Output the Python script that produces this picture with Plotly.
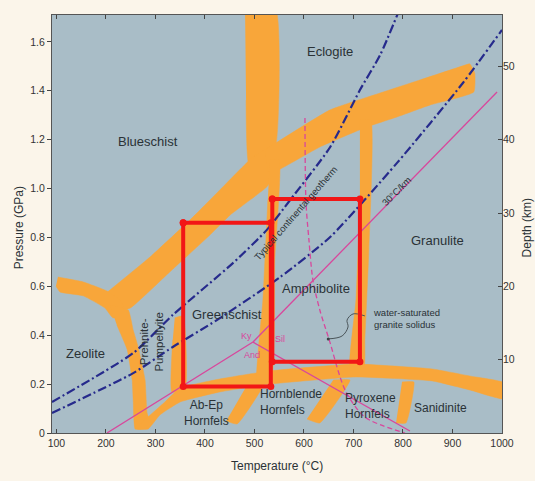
import plotly.graph_objects as go

# ---------------- data (Temperature °C, Pressure GPa) ----------------
temp_ticks = list(range(100, 1001, 100))
pres_ticks = [0, 0.2, 0.4, 0.6, 0.8, 1.0, 1.2, 1.4, 1.6]
pres_ticktext = ["0", "0.2", "0.4", "0.6", "0.8", "1.0", "1.2", "1.4", "1.6"]
depth_ticks = [10, 20, 30, 40, 50]

# facies boundary bands (polygons)
band_top_T = [481, 543, 543, 515, 489, 483]
band_top_P = [1.73, 1.73, 1.178, 1.117, 1.097, 1.362]

band_diag_T = [188, 289, 370, 430, 497, 541, 550, 525, 451, 410, 329, 249, 218]
band_diag_P = [0.552, 0.720, 0.872, 0.994, 1.129, 1.178, 1.084, 1.007, 0.892, 0.810, 0.659, 0.511, 0.495]

band_ecl_T = [521, 653, 754, 834, 921, 935, 945, 943, 855, 788, 727, 632, 548, 527]
band_ecl_P = [1.158, 1.322, 1.391, 1.444, 1.502, 1.510, 1.473, 1.395, 1.342, 1.293, 1.252, 1.170, 1.076, 1.068]

band_zeo_arm_T = [103, 154, 202, 228, 243, 214, 198, 154, 107, 99]
band_zeo_arm_P = [0.638, 0.618, 0.581, 0.544, 0.483, 0.471, 0.511, 0.561, 0.577, 0.601]

band_zeo_down_T = [208, 245, 255, 265, 279, 283, 289, 275, 259, 255, 253, 243, 222]
band_zeo_down_P = [0.524, 0.503, 0.421, 0.352, 0.217, 0.082, 0.045, 0.016, 0.016, 0.135, 0.217, 0.340, 0.442]

band_hornfels_T = [269, 319, 350, 430, 531, 703, 859, 935, 1005,
                   1005, 935, 859, 703, 531, 430, 350, 309, 285, 265]
band_hornfels_P = [0.037, 0.127, 0.184, 0.221, 0.254, 0.282, 0.262, 0.233, 0.205,
                   0.139, 0.176, 0.213, 0.229, 0.200, 0.168, 0.127, 0.074, 0.016, 0.016]

band_pp_T = [339, 356, 360, 333, 335]
band_pp_P = [0.471, 0.479, 0.176, 0.168, 0.381]

band_gs_amph_T = [531, 550, 541, 535, 505, 517, 527]
band_gs_amph_P = [1.117, 1.117, 0.708, 0.237, 0.196, 0.544, 0.953]

band_amph_gran_T = [713, 735, 731, 723, 721, 693, 705, 713]
band_amph_gran_P = [1.281, 1.281, 0.749, 0.381, 0.266, 0.258, 0.544, 0.953]

band_abep_T = [491, 523, 465, 443]
band_abep_P = [0.217, 0.217, 0.037, 0.049]
band_hbl_px_T = [659, 693, 632, 606]
band_hbl_px_P = [0.217, 0.217, 0.041, 0.057]
band_px_san_T = [798, 822, 806, 786]
band_px_san_P = [0.209, 0.209, 0.041, 0.041]

# geotherms
geotherm_T = [91, 255, 335, 457, 525, 572, 653, 713, 754, 790]
geotherm_P = [0.127, 0.327, 0.483, 0.696, 0.831, 0.953, 1.170, 1.403, 1.547, 1.718]
grad30_T = [91, 255, 335, 424, 552, 653, 788, 921, 1000]
grad30_P = [0.082, 0.245, 0.352, 0.462, 0.638, 0.802, 1.105, 1.432, 1.649]

# Al2SiO5 reactions
and_ky_T = [202, 497]
and_ky_P = [0.0, 0.372]
ky_sil_T = [497, 990]
ky_sil_P = [0.372, 1.395]
and_sil_T = [497, 814]
and_sil_P = [0.372, 0.008]

# water-saturated granite solidus
solidus_T = [602, 604, 610, 618, 632, 651, 683, 723, 804]
solidus_P = [1.289, 0.945, 0.790, 0.626, 0.503, 0.381, 0.176, 0.065, 0.0]
pointer_T = [649, 677, 689, 687, 699, 723]
pointer_P = [0.385, 0.397, 0.434, 0.462, 0.487, 0.479]

# highlighted boxes
greenschist_box_T = [356, 533, 533, 356, 356]
greenschist_box_P = [0.86, 0.86, 0.19, 0.19, 0.86]
amphibolite_box_T = [536, 713, 713, 536, 536]
amphibolite_box_P = [0.957, 0.957, 0.291, 0.291, 0.957]

# ---------------- styling ----------------
ORANGE = "#f8a63a"
BG = "#a9bdc7"
PAPER = "#fbf5ea"
RED = "#f21616"
NAVY = "#262a8c"
PINK = "#d8479c"
TXT = "#2a3236"
FONT = "Liberation Sans, Arial, sans-serif"

fig = go.Figure()

bands = [
    (band_top_T, band_top_P), (band_diag_T, band_diag_P), (band_ecl_T, band_ecl_P),
    (band_zeo_arm_T, band_zeo_arm_P), (band_zeo_down_T, band_zeo_down_P),
    (band_hornfels_T, band_hornfels_P), (band_pp_T, band_pp_P),
    (band_gs_amph_T, band_gs_amph_P), (band_amph_gran_T, band_amph_gran_P),
    (band_abep_T, band_abep_P), (band_hbl_px_T, band_hbl_px_P), (band_px_san_T, band_px_san_P),
]
for bt, bp in bands:
    fig.add_trace(go.Scatter(x=bt, y=bp, mode="lines", fill="toself", fillcolor=ORANGE,
                             line=dict(width=0.5, color=ORANGE, shape="spline", smoothing=0.4),
                             hoverinfo="skip", showlegend=False))

for gt, gp in [(geotherm_T, geotherm_P), (grad30_T, grad30_P)]:
    fig.add_trace(go.Scatter(x=gt, y=gp, mode="lines",
                             line=dict(color=NAVY, width=2.2, dash="9px,3px,2px,3px",
                                       shape="spline", smoothing=0.6),
                             hoverinfo="skip", showlegend=False))

for lt, lp in [(and_ky_T, and_ky_P), (ky_sil_T, ky_sil_P), (and_sil_T, and_sil_P)]:
    fig.add_trace(go.Scatter(x=lt, y=lp, mode="lines", line=dict(color=PINK, width=1.3),
                             hoverinfo="skip", showlegend=False))

fig.add_trace(go.Scatter(x=solidus_T, y=solidus_P, mode="lines",
                         line=dict(color=PINK, width=1.3, dash="5px,3px", shape="spline", smoothing=0.8),
                         hoverinfo="skip", showlegend=False))
fig.add_trace(go.Scatter(x=pointer_T, y=pointer_P, mode="lines",
                         line=dict(color="#4a5459", width=1, shape="spline", smoothing=1.0),
                         hoverinfo="skip", showlegend=False))
fig.add_trace(go.Scatter(x=pointer_T[:1], y=pointer_P[:1], mode="markers",
                         marker=dict(color="#3a4245", size=3), hoverinfo="skip", showlegend=False))

for bt, bp in [(greenschist_box_T, greenschist_box_P), (amphibolite_box_T, amphibolite_box_P)]:
    fig.add_trace(go.Scatter(x=bt, y=bp, mode="lines+markers",
                             line=dict(color=RED, width=4), marker=dict(color=RED, size=7),
                             hoverinfo="skip", showlegend=False))

# invisible trace to activate the depth axis
fig.add_trace(go.Scatter(x=[500], y=[20], yaxis="y2", mode="markers",
                         marker=dict(opacity=0), hoverinfo="skip", showlegend=False))

# ---------------- labels ----------------
labels = [
    ("Eclogite", 653, 1.559, 13, 0, "center"),
    ("Blueschist", 285, 1.191, 13, 0, "center"),
    ("Greenschist", 444, 0.483, 13, 0, "center"),
    ("Amphibolite", 624, 0.593, 13, 0, "center"),
    ("Granulite", 869, 0.786, 13, 0, "center"),
    ("Zeolite", 158, 0.327, 13, 0, "center"),
    ("Prehnite-<br>Pumpellyite", 292, 0.372, 11.5, -90, "center"),
    ("Ab-Ep<br>Hornfels", 404, 0.082, 12, 0, "center"),
    ("Sanidinite", 875, 0.102, 12, 0, "center"),
]
for txt, x, y, size, ang, al in labels:
    fig.add_annotation(x=x, y=y, text=txt, showarrow=False, textangle=ang, align=al,
                       font=dict(family=FONT, size=size, color=TXT))

for txt, x, y in [("Hornblende<br>Hornfels", 507, 0.127), ("Pyroxene<br>Hornfels", 679, 0.110)]:
    fig.add_annotation(x=x, y=y, text=txt, showarrow=False, xanchor="left", align="left",
                       font=dict(family=FONT, size=12, color=TXT))

fig.add_annotation(x=735, y=0.47, text="water-saturated<br>granite solidus", showarrow=False,
                   xanchor="left", align="left", font=dict(family=FONT, size=9.5, color=TXT))

for txt, x, y in [("Ky", 483, 0.397), ("And", 495, 0.319), ("Sil", 552, 0.385)]:
    fig.add_annotation(x=x, y=y, text=txt, showarrow=False,
                       font=dict(family=FONT, size=9, color=PINK))

fig.add_annotation(x=582, y=0.900, text="Typical continental geotherm", showarrow=False,
                   textangle=-49, font=dict(family=FONT, size=9.5, color=TXT))
fig.add_annotation(x=786, y=0.990, text="30°C/km", showarrow=False,
                   textangle=-45, font=dict(family=FONT, size=9.5, color=TXT))

# axis titles
fig.add_annotation(xref="paper", yref="paper", x=0.5, y=-0.079, xanchor="center", yanchor="middle",
                   text="Temperature (°C)", showarrow=False, font=dict(family=FONT, size=12, color=TXT))
fig.add_annotation(xref="paper", yref="paper", x=-0.073, y=0.49, xanchor="center", yanchor="middle",
                   text="Pressure (GPa)", showarrow=False, textangle=-90,
                   font=dict(family=FONT, size=12, color=TXT))
fig.add_annotation(xref="paper", yref="paper", x=1.056, y=0.49, xanchor="center", yanchor="middle",
                   text="Depth (km)", showarrow=False, textangle=-90,
                   font=dict(family=FONT, size=12, color=TXT))

axis_common = dict(showgrid=False, zeroline=False, tickcolor="#444", ticklen=4,
                   tickfont=dict(family=FONT, size=10.5, color="#333"))

fig.update_layout(
    width=535, height=481, autosize=False,
    margin=dict(l=52, r=33, t=15, b=48),
    paper_bgcolor=PAPER, plot_bgcolor=BG,
    xaxis=dict(range=[91, 1000], tickvals=temp_ticks, ticks="inside", showline=True,
               linecolor="#555", linewidth=1, mirror="ticks", **axis_common),
    yaxis=dict(range=[0, 1.71], tickvals=pres_ticks, ticktext=pres_ticktext, ticks="outside",
               showline=True, linecolor="#555", linewidth=1, mirror=True, **axis_common),
    yaxis2=dict(range=[0, 57], tickvals=depth_ticks, overlaying="y", side="right",
                ticks="inside", showline=False, **axis_common),
)

fig.write_html(
    "out.html",
    config={"displayModeBar": False},
    post_script="document.body.style.margin='0';document.body.style.overflow='hidden';"
                "document.body.style.background='" + PAPER + "';",
)
